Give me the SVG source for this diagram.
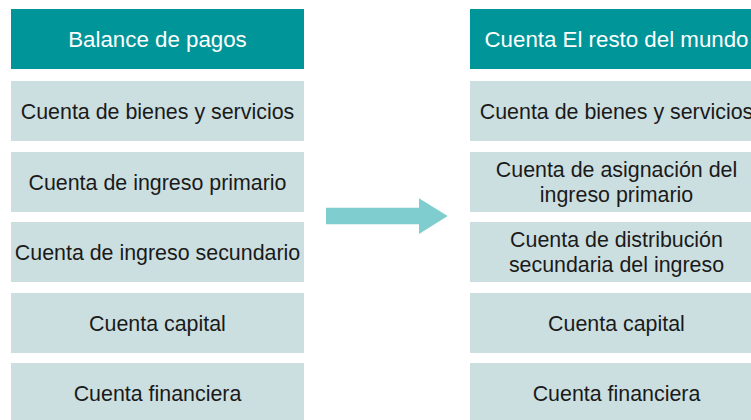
<svg xmlns="http://www.w3.org/2000/svg" width="751" height="420" viewBox="0 0 751 420">
<style>
.hdr{fill:#009598}
.row{fill:#CCDFE0}
.ht{font-family:"Liberation Sans",Arial,sans-serif;font-size:22.3px;fill:#ffffff;text-anchor:middle}
.t{font-family:"Liberation Sans",Arial,sans-serif;font-size:21.4px;fill:#1a1a1a;text-anchor:middle}
.arrow{fill:#80CDCF}
</style>
<rect width="751" height="420" fill="#ffffff"/>
<g id="left-header"><rect class="hdr" x="11" y="9" width="293" height="60"/><text class="ht" x="157.5" y="46.8">Balance de pagos</text></g>
<g id="left-1"><rect class="row" x="11" y="81" width="293" height="60"/><text class="t" x="157.5" y="118.5">Cuenta de bienes y servicios</text></g>
<g id="left-2"><rect class="row" x="11" y="152" width="293" height="60"/><text class="t" x="157.5" y="189.5">Cuenta de ingreso primario</text></g>
<g id="left-3"><rect class="row" x="11" y="222" width="293" height="60"/><text class="t" x="157.5" y="259.5">Cuenta de ingreso secundario</text></g>
<g id="left-4"><rect class="row" x="11" y="293" width="293" height="60"/><text class="t" x="157.5" y="330.5">Cuenta capital</text></g>
<g id="left-5"><rect class="row" x="11" y="363" width="293" height="60"/><text class="t" x="157.5" y="400.5">Cuenta financiera</text></g>
<g id="right-header"><rect class="hdr" x="470" y="9" width="293" height="60"/><text class="ht" x="616.5" y="46.8">Cuenta El resto del mundo</text></g>
<g id="right-1"><rect class="row" x="470" y="81" width="293" height="60"/><text class="t" x="616.5" y="118.5">Cuenta de bienes y servicios</text></g>
<g id="right-2"><rect class="row" x="470" y="152" width="293" height="60"/><text class="t" x="616.5" y="176.7">Cuenta de asignación del</text><text class="t" x="616.5" y="201.7">ingreso primario</text></g>
<g id="right-3"><rect class="row" x="470" y="222" width="293" height="60"/><text class="t" x="616.5" y="246.7">Cuenta de distribución</text><text class="t" x="616.5" y="271.7">secundaria del ingreso</text></g>
<g id="right-4"><rect class="row" x="470" y="293" width="293" height="60"/><text class="t" x="616.5" y="330.5">Cuenta capital</text></g>
<g id="right-5"><rect class="row" x="470" y="363" width="293" height="60"/><text class="t" x="616.5" y="400.5">Cuenta financiera</text></g>
<g id="connectors"><polygon class="arrow" points="326,207.7 419,207.7 419,198.3 447.7,216 419,234 419,224.3 326,224.3"/></g>
</svg>
